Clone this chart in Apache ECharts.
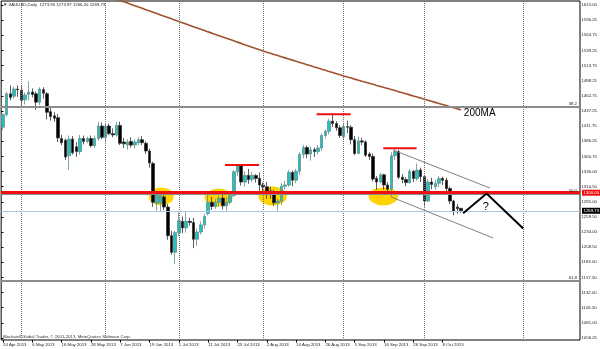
<!DOCTYPE html>
<html><head><meta charset="utf-8">
<script src="https://cdn.jsdelivr.net/npm/echarts@6/dist/echarts.min.js"></script>
<style>html,body{margin:0;padding:0;background:#fff}#c{width:600px;height:349px}</style>
</head><body><div id="c"></div>
<script>
// ---- categories (trading days, incl. a Sunday bar on 15 Sep, plus future empty slots) ----
const tradingDays = [
  ['Apr', [24,25,26,29,30]],
  ['May', [1,2,3,6,7,8,9,10,13,14,15,16,17,20,21,22,23,24,27,28,29,30,31]],
  ['Jun', [3,4,5,6,7,10,11,12,13,14,17,18,19,20,21,24,25,26,27,28]],
  ['Jul', [1,2,3,4,5,8,9,10,11,12,15,16,17,18,19,22,23,24,25,26,29,30,31]],
  ['Aug', [1,2,5,6,7,8,9,12,13,14,15,16,19,20,21,22,23,26,27,28,29,30]],
  ['Sep', [2,3,4,5,6,9,10,11,12,13,15,16,17,18,19,20,23,24,25,26,27,30]],
  ['Oct', [1,2,3,4,7,8,9,10,11,14,15,16,17,18,21,22,23,24,25,28,29,30,31]],
  ['Nov', [1,4,5,6,7,8,11,12,13,14,15,18,19,20,21,22,25,26,27,28]]
];
const categories = [];
tradingDays.forEach(([m, ds]) => ds.forEach(d => categories.push(d + ' ' + m + ' 2013')));

// ---- OHLC ----
const opens = [1410,1431,1466,1462,1474,1472,1456,1465,1469,1466,1452,1473,1466,1436,1429,1426,1391,1388,1362,1390,
1377,1369,1391,1386,1391,1379,1391,1412,1393,1412,1399,1397,1413,1385,1380,1386,1380,1384,1389,1383,
1370,1349,1282,1283,1293,1276,1228,1200,1233,1252,1241,1252,1250,1222,1234,1246,1265,1284,1277,1284,
1291,1278,1284,1295,1335,1345,1318,1329,1322,1329,1324,1313,1310,1303,1302,1283,1286,1311,1313,1334,
1321,1336,1364,1376,1365,1372,1369,1375,1396,1403,1420,1416,1409,1394,1411,1410,1389,1366,1387,1385,
1365,1361,1324,1318,1330,1313,1306,1362,1369,1326,1322,1317,1336,1324,1338,1327,1286,1318,1310,1316,
1324,1321,1307,1286,1276,1273.90];
const highs = [1433,1469,1480,1478,1480,1479,1468,1487,1475,1470,1477,1477,1469,1444,1435,1432,1397,1391,1396,1395,
1385,1397,1396,1394,1396,1396,1419,1418,1417,1416,1408,1419,1419,1392,1390,1393,1390,1393,1395,1386,
1374,1352,1300,1300,1297,1281,1236,1236,1267,1260,1268,1258,1258,1240,1252,1265,1297,1293,1290,1295,
1297,1293,1298,1338,1348,1347,1336,1340,1335,1331,1334,1317,1318,1310,1305,1290,1316,1320,1338,1337,
1340,1368,1380,1379,1378,1376,1380,1399,1406,1424,1433,1420,1413,1416,1421,1413,1395,1394,1392,1388,
1368,1366,1328,1334,1332,1318,1368,1375,1372,1331,1326,1340,1338,1349,1342,1330,1323,1325,1321,1328,
1327,1325,1310,1288,1281,1273.97];
const lows = [1405,1428,1455,1458,1461,1443,1448,1455,1460,1439,1447,1458,1423,1421,1419,1385,1380,1355,1338,1364,
1360,1364,1381,1383,1376,1375,1387,1390,1385,1397,1393,1394,1380,1375,1372,1376,1374,1380,1380,1365,
1342,1276,1270,1268,1271,1221,1196,1180,1227,1232,1233,1245,1207,1211,1230,1240,1262,1271,1273,1276,
1272,1270,1280,1293,1328,1312,1310,1315,1318,1317,1301,1300,1290,1290,1278,1270,1280,1305,1310,1311,
1316,1330,1358,1358,1354,1360,1364,1370,1391,1398,1410,1404,1392,1390,1400,1381,1363,1365,1380,1360,
1355,1319,1305,1316,1305,1298,1294,1355,1323,1316,1311,1315,1318,1320,1318,1277,1284,1306,1305,1310,
1313,1301,1281,1262,1265,1266.20];
const closes = [1431,1466,1460,1474,1473,1455,1464,1469,1465,1452,1474,1467,1435,1428,1425,1392,1384,1360,1390,1367,
1369,1391,1386,1391,1379,1391,1412,1393,1412,1399,1397,1413,1383,1382,1385,1380,1385,1389,1384,1370,
1350,1284,1296,1295,1276,1228,1200,1233,1253,1241,1252,1250,1222,1234,1246,1260,1284,1277,1284,1291,
1278,1284,1295,1335,1345,1318,1329,1322,1329,1324,1313,1310,1303,1302,1283,1286,1311,1313,1334,1321,
1336,1364,1376,1365,1372,1369,1375,1396,1403,1420,1416,1409,1396,1411,1410,1389,1366,1387,1385,1363,
1361,1323,1318,1330,1313,1306,1362,1369,1326,1322,1317,1336,1324,1338,1327,1286,1318,1314,1316,1324,
1321,1307,1286,1269,1273,1269.73];

// 200-period moving average, visible part (bars 30..125)
const maStart = 30;
const ma200Visible = [1627.0,1624.8,1622.6,1620.4,1618.2,1616.0,1613.8,1611.6,1609.4,1607.2,
1605.0,1602.8,1600.6,1598.4,1596.2,1594.0,1591.8,1589.6,1587.4,1585.2,
1583.0,1580.8,1578.6,1576.4,1574.2,1572.1,1569.9,1567.8,1565.6,1563.5,
1561.3,1559.2,1557.0,1554.9,1552.7,1550.6,1548.4,1546.3,1544.1,1542.0,
1539.8,1537.7,1535.8,1533.9,1532.0,1530.1,1528.2,1526.3,1524.4,1522.5,
1520.6,1518.7,1516.8,1514.9,1513.0,1511.1,1509.2,1507.3,1505.4,1503.5,
1501.6,1499.7,1497.8,1495.9,1494.1,1492.4,1490.6,1488.9,1487.1,1485.4,
1483.6,1481.9,1480.1,1478.4,1476.6,1474.9,1473.1,1471.4,1469.6,1467.8,
1466.0,1464.2,1462.4,1460.6,1458.8,1457.0,1455.2,1453.4,1451.6,1449.8,
1448.0,1446.2,1444.4,1442.6,1440.8,1439.0];

// right price-scale tick labels (top to bottom)
const priceTicks = ['1615.00','1590.25','1564.75','1539.25','1513.75','1488.25','1462.75','1437.25','1411.75',
'1386.25','1360.75','1336.00','1310.50','1285.00','1259.50','1234.00','1208.50','1183.00','1157.50',
'1132.00','1106.50','1081.00','1056.25'];
const scaleTop = 1615.00, scaleBottom = 1056.25;

// annotations (bar index, price)
const monthStarts = [5, 28, 48, 71, 93, 115, 142];
const fibLevels = [1443.8, 1298.1, 1152.4];
const fibNames = ['38.2', '50.0', '61.8'];
const supportLevel = 1300.00;
const bidPrice = 1269.73;
const zones = [[39.8, 46.6, 1278.6, 1308.8], [55.0, 62.7, 1277.0, 1307.1], [69.7, 77.5, 1278.6, 1310.4], [99.8, 107.9, 1278.6, 1309.4]];
const resistMarks = [[60.6, 69.9, 1346.5], [85.6, 94.9, 1431.6], [103.8, 112.9, 1374.5]];
const channel = [[106.5, 1371.7, 132.9, 1307.9], [105.8, 1293.3, 133.8, 1224.0]];
const arrowPath = [[125.6, 1265.5], [132.0, 1298.7], [142.0, 1240.0]];
const notes = [[125.8, 1433.8], [131.8, 1276.6]];
const noteTexts = ['200MA', '?'];
const noteSizes = [10, 11];

// ---- build ----
const N = categories.length;
const nBars = opens.length;
const candles = opens.map((o, i) => [o, closes[i], lows[i], highs[i]]);
const ma = new Array(maStart).fill(null).concat(ma200Visible);
const last = nBars - 1;
const header = '\u25BC XAUUSD,Daily  ' + [opens[last], highs[last], lows[last], closes[last]].map(v => v.toFixed(2)).join(' ');

// pixel geometry of plot
const plotTop = 1, plotH = 339, labTop = 5, labH = 333;
const pxPerPrice = labH / (scaleTop - scaleBottom);
const yMax = scaleTop + (labTop - plotTop) / pxPerPrice;
const yMin = scaleBottom - (plotTop + plotH - (labTop + labH)) / pxPerPrice;

const small = 4.3;
const font = 'Liberation Sans';
const lblInt = (idx) => idx % 8 === 0 && idx <= 120;

const chart = echarts.init(document.getElementById('c'), null, {renderer: 'canvas'});
chart.setOption({
  animation: false,
  backgroundColor: '#fff',
  textStyle: {fontFamily: font},
  title: [
    {text: header, left: 3, top: 2.5, padding: 0, textStyle: {fontSize: small, fontWeight: 'normal', color: '#222', fontFamily: font}},
    {text: 'Blackwell Global Trader, \u00A9 2001-2013, MetaQuotes Software Corp.', left: 3, top: 335, padding: 0,
     textStyle: {fontSize: small, fontWeight: 'normal', color: '#333', fontFamily: font}}
  ],
  grid: [
    {left: 1, top: plotTop, width: 579, height: plotH, show: true, borderColor: '#000', borderWidth: 1, backgroundColor: '#fff'},
    {left: 1, top: labTop, width: 579, height: labH, show: false}
  ],
  xAxis: [
    {type: 'category', gridIndex: 0, data: categories, boundaryGap: true,
     axisLine: {show: false},
     axisTick: {show: true, interval: lblInt, alignWithLabel: true, length: 2.5, lineStyle: {color: '#000'}},
     axisLabel: {interval: lblInt, align: 'left', margin: 2.5, fontSize: small, color: '#222', fontFamily: font},
     splitLine: {show: false}},
    {type: 'value', gridIndex: 0, min: -0.5, max: N - 0.5, show: false},
    {type: 'value', gridIndex: 1, min: 0, max: 1, show: false}
  ],
  yAxis: [
    {type: 'value', gridIndex: 0, min: yMin, max: yMax, scale: true,
     axisLine: {show: false}, axisTick: {show: false}, axisLabel: {show: false}, splitLine: {show: false}},
    {type: 'value', gridIndex: 1, position: 'right', min: 0, max: priceTicks.length - 1, interval: 1,
     axisLine: {show: false},
     axisTick: {show: true, length: 2.5, lineStyle: {color: '#000'}},
     axisLabel: {margin: 3, fontSize: small, color: '#222', fontFamily: font,
       formatter: v => priceTicks[priceTicks.length - 1 - Math.round(v)]},
     splitLine: {show: false}}
  ],
  series: [
    {name: 'separators', type: 'line', xAxisIndex: 1, yAxisIndex: 0, data: [], z: 0, silent: true,
     markLine: {silent: true, animation: false, symbol: ['none', 'none'], label: {show: false},
       lineStyle: {type: 'dotted', color: '#6e6e6e', width: 1},
       data: monthStarts.map(i => ({xAxis: i}))}},
    {name: 'fibo', type: 'line', xAxisIndex: 1, yAxisIndex: 0, data: [], z: 0, silent: true,
     markLine: {silent: true, animation: false, symbol: ['none', 'none'],
       lineStyle: {type: 'solid', color: '#8c8c8c', width: 2},
       label: {show: true, position: 'insideEndTop', distance: [3, 1], fontSize: small, color: '#222', fontFamily: font},
       data: fibLevels.map((v, k) => ({yAxis: v, label: {formatter: fibNames[k]}}))}},
    {name: 'zones', type: 'custom', xAxisIndex: 1, yAxisIndex: 0, z: 1, silent: true,
     data: zones, encode: {x: [0, 1], y: [2, 3]},
     renderItem: (params, api) => {
       const a = api.coord([api.value(0), api.value(3)]);
       const b = api.coord([api.value(1), api.value(2)]);
       return {type: 'circle', x: (a[0] + b[0]) / 2, y: (a[1] + b[1]) / 2,
         scaleX: Math.abs(b[0] - a[0]) / 2, scaleY: Math.abs(b[1] - a[1]) / 2,
         shape: {cx: 0, cy: 0, r: 1}, style: {fill: '#ffd400'}};
     }},
    {name: 'MA200', type: 'line', xAxisIndex: 0, yAxisIndex: 0, data: ma, z: 2, showSymbol: false, silent: true,
     lineStyle: {color: '#a0522d', width: 1.6}},
    {name: 'XAUUSD', type: 'candlestick', xAxisIndex: 0, yAxisIndex: 0, data: candles, z: 3, barWidth: 3, silent: true,
     itemStyle: {color: '#22c2c2', color0: '#000000', borderColor: '#5f8f8f', borderColor0: '#333333', borderWidth: 0.8}},
    {name: 'levels', type: 'line', xAxisIndex: 1, yAxisIndex: 0, data: [], z: 4, silent: true,
     markLine: {silent: true, animation: false, symbol: ['none', 'none'],
       data: [
         {yAxis: bidPrice, lineStyle: {color: '#b0c4de', width: 1, type: 'solid'},
          label: {show: true, position: 'end', distance: 2, formatter: bidPrice.toFixed(2), fontSize: small,
            color: '#fff', backgroundColor: '#000', padding: [1, 1.5], fontFamily: font}},
         {yAxis: supportLevel, lineStyle: {color: '#f01010', width: 3, type: 'solid'},
          label: {show: true, position: 'end', distance: 2, formatter: supportLevel.toFixed(2), fontSize: small,
            color: '#fff', backgroundColor: '#f01010', padding: [1, 1.5], fontFamily: font}}
       ]}},
    {name: 'resist', type: 'custom', xAxisIndex: 1, yAxisIndex: 0, z: 5, silent: true,
     data: resistMarks, encode: {x: [0, 1], y: 2},
     renderItem: (params, api) => {
       const a = api.coord([api.value(0), api.value(2)]);
       const b = api.coord([api.value(1), api.value(2)]);
       return {type: 'line', shape: {x1: a[0], y1: a[1], x2: b[0], y2: b[1]}, style: {stroke: '#f01010', lineWidth: 2}};
     }},
    {name: 'channel', type: 'custom', xAxisIndex: 1, yAxisIndex: 0, z: 5, silent: true,
     data: channel, encode: {x: [0, 2], y: [1, 3]},
     renderItem: (params, api) => {
       const a = api.coord([api.value(0), api.value(1)]);
       const b = api.coord([api.value(2), api.value(3)]);
       return {type: 'line', shape: {x1: a[0], y1: a[1], x2: b[0], y2: b[1]}, style: {stroke: '#808080', lineWidth: 1}};
     }},
    {name: 'arrow', type: 'custom', xAxisIndex: 1, yAxisIndex: 0, z: 5, silent: true,
     data: arrowPath, encode: {x: 0, y: 1},
     renderItem: (params, api) => {
       if (params.dataIndex !== 0) return null;
       const pts = arrowPath.map(p => api.coord(p));
       return {type: 'polyline', shape: {points: pts}, style: {stroke: '#000', lineWidth: 2, fill: null}};
     }},
    {name: 'notes', type: 'custom', xAxisIndex: 1, yAxisIndex: 0, z: 6, silent: true,
     data: notes, encode: {x: 0, y: 1},
     renderItem: (params, api) => {
       const p = api.coord([api.value(0), api.value(1)]);
       const i = params.dataIndex;
       return {type: 'text', x: p[0], y: p[1],
         style: {text: noteTexts[i], fontSize: noteSizes[i], fontFamily: font, fill: '#000',
           align: i === 0 ? 'left' : 'center', verticalAlign: 'middle'}};
     }}
  ]
});
</script>
</body></html>
